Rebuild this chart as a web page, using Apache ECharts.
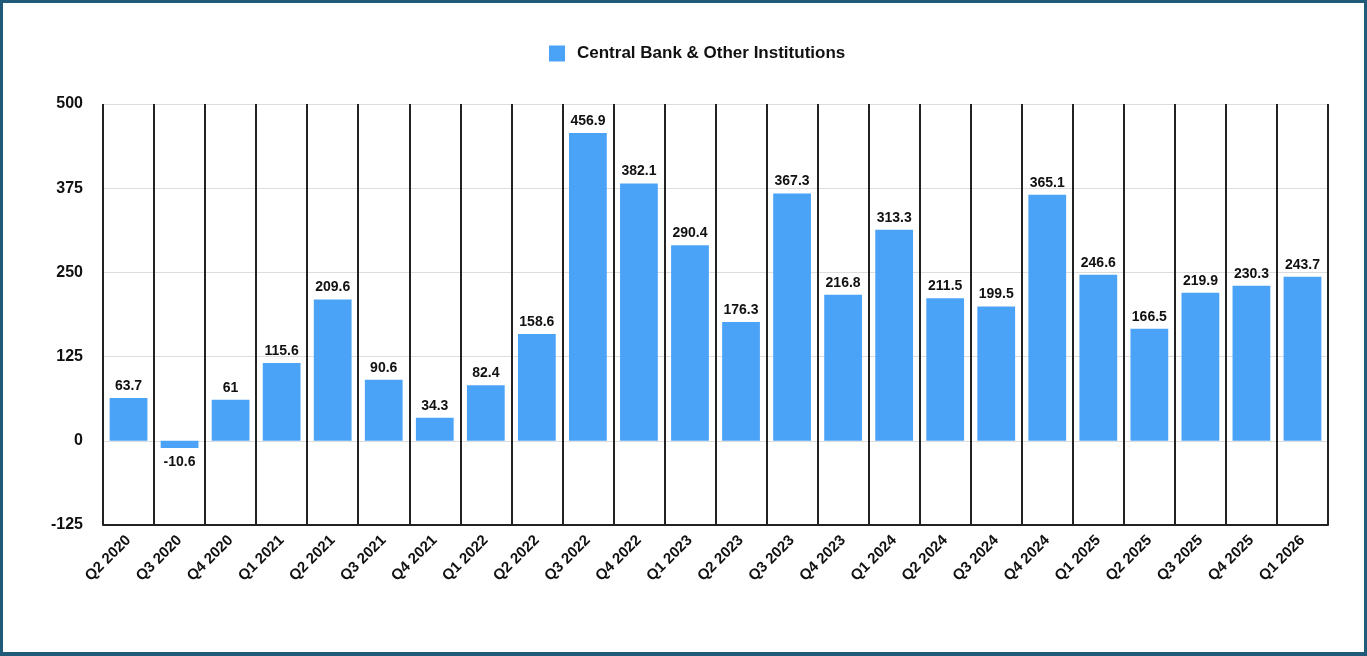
<!DOCTYPE html>
<html style="height: 100%">
<head>
    <meta charset="utf-8">
    <script type="text/javascript" src="https://cdn.jsdelivr.net/npm/echarts@6.0.0/dist/echarts.min.js"></script>
</head>
<body style="height: 100%; margin: 0; background-color: #ffffff;">
    <div id="main" style="position: absolute; left: 0; top: 0; width: 1367px; height: 656px;"></div>
    <!-- frame round the picture -->
    <div style="position: absolute; left: 0; top: 0; width: 1367px; height: 656px; box-sizing: border-box; border: 3px solid #1f5a78; border-bottom-width: 4px; pointer-events: none;"></div>
<script>
var quarters = ['Q2 2020', 'Q3 2020', 'Q4 2020', 'Q1 2021', 'Q2 2021', 'Q3 2021', 'Q4 2021',
    'Q1 2022', 'Q2 2022', 'Q3 2022', 'Q4 2022', 'Q1 2023', 'Q2 2023', 'Q3 2023', 'Q4 2023',
    'Q1 2024', 'Q2 2024', 'Q3 2024', 'Q4 2024', 'Q1 2025', 'Q2 2025', 'Q3 2025', 'Q4 2025', 'Q1 2026'];
var tonnes = [63.7, -10.6, 61, 115.6, 209.6, 90.6, 34.3,
    82.4, 158.6, 456.9, 382.1, 290.4, 176.3, 367.3, 216.8,
    313.3, 211.5, 199.5, 365.1, 246.6, 166.5, 219.9, 230.3, 243.7];
var seriesName = 'Central Bank & Other Institutions';

var myChart = echarts.init(document.getElementById('main'));
var font = 'Helvetica, Arial, "Liberation Sans", sans-serif';

var option = {
    animation: false,
    textStyle: { fontFamily: font },
    legend: {
        data: [seriesName],
        top: 40,
        left: 544,
        icon: 'rect',
        itemWidth: 16,
        itemHeight: 16,
        textStyle: { fontSize: 17, fontWeight: 'bold', color: '#111', fontFamily: font, padding: [0, 0, 0, 7] }
    },
    grid: { left: 103, right: 39, top: 104, bottom: 131 },
    xAxis: {
        type: 'category',
        data: quarters,
        axisLine: { onZero: false, lineStyle: { color: '#222', width: 2 } },
        axisTick: { show: false },
        splitLine: { show: true, lineStyle: { color: '#222', width: 2 } },
        axisLabel: {
            rotate: 45, interval: 0, margin: 13,
            fontSize: 15, fontWeight: 'bold', color: '#111', fontFamily: font
        }
    },
    yAxis: {
        type: 'value',
        min: -125, max: 500, interval: 125,
        axisLine: { show: false },
        axisTick: { show: false },
        splitLine: { lineStyle: { color: '#dddddd', width: 1 } },
        axisLabel: { margin: 20, fontSize: 16, fontWeight: 'bold', color: '#111', fontFamily: font }
    },
    series: [{
        name: seriesName,
        type: 'bar',
        data: tonnes,
        barCategoryGap: '26%',
        itemStyle: { color: '#4ba3f8' },
        label: {
            show: true,
            position: 'top',
            distance: 5,
            fontSize: 14, fontWeight: 'bold', color: '#111', fontFamily: font
        }
    }]
};
// negative values get their label underneath
option.series[0].data = tonnes.map(function (v) {
    return v < 0 ? { value: v, label: { position: 'bottom', distance: 7 } } : v;
});
myChart.setOption(option);
</script>
</body>
</html>
